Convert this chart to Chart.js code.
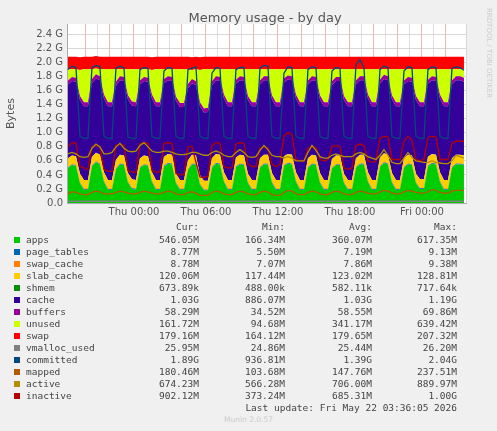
<!DOCTYPE html>
<html lang="en">
<head>
<meta charset="UTF-8" />
<title>Memory usage - by day</title>
<script src="https://cdn.jsdelivr.net/npm/chart.js"></script>
<style>
  body { margin: 0; background: #f0f0f0; width: 497px; height: 431px; position: relative; overflow: hidden;
         font-family: "DejaVu Sans Mono", monospace; font-size: 9.5px; color: #444; }
  #wrap { position: absolute; left: 0; top: 0; width: 497px; height: 222px; }
  .row { position: absolute; left: 0; height: 12px; line-height: 12px; white-space: pre; }
  .sw { position: absolute; left: 14px; top: 3px; width: 6px; height: 6px; }
  .lab { position: absolute; left: 26px; }
  .num { position: absolute; text-align: right; width: 90px; }
  #munin { position: absolute; top: 415px; left: 0; width: 497px; text-align: center; color: #ccc; font-family: "DejaVu Sans"; font-size: 7.5px; }
</style>
</head>
<body>
<div id="wrap"><canvas id="c" width="497" height="222"></canvas></div>
<div id="legend"></div>
<div id="munin">Munin 2.0.57</div>
<script>
// samples every 20 minutes, hours relative to Thu 00:00
const startHour = -5.5;
const stepHour = 1 / 3;

// values in GB
const apps = [
  0.50,0.54,0.53,0.28,0.19,0.19, 0.52,0.58,0.55,0.30,0.19,0.19,
  0.48,0.55,0.54,0.29,0.20,0.19, 0.50,0.54,0.53,0.30,0.19,0.19,
  0.52,0.56,0.55,0.28,0.19,0.19, 0.47,0.55,0.54,0.26,0.18,0.18,
  0.50,0.56,0.55,0.30,0.19,0.19, 0.51,0.55,0.54,0.28,0.19,0.19,
  0.50,0.55,0.55,0.29,0.19,0.19, 0.53,0.56,0.55,0.30,0.19,0.19,
  0.50,0.55,0.54,0.29,0.19,0.19, 0.49,0.54,0.54,0.28,0.19,0.19,
  0.50,0.55,0.55,0.30,0.19,0.19, 0.51,0.57,0.55,0.29,0.19,0.19,
  0.50,0.55,0.54,0.28,0.20,0.20, 0.52,0.56,0.55,0.30,0.19,0.19,
  0.50,0.55,0.55,0.54
];
const pageTables = Array(100).fill(0.009);
const swapCache = Array(100).fill(0.008);
const slabCache = Array(100).fill(0.12);
const shmem = Array(100).fill(0.0006);
const cache = [
  1.05,1.06,1.06,1.05,1.05,1.05, 1.05,1.06,1.06,1.05,1.05,1.05,
  1.05,1.06,1.06,1.05,1.05,1.05, 1.05,1.06,1.06,1.05,1.05,1.05,
  1.05,1.05,1.05,1.04,1.04,1.04, 1.03,1.02,1.00,0.98,0.97,0.98,
  1.04,1.05,1.05,1.05,1.05,1.05, 1.05,1.06,1.06,1.05,1.05,1.05,
  1.05,1.06,1.06,1.05,1.05,1.05, 1.05,1.06,1.06,1.05,1.05,1.05,
  1.05,1.06,1.06,1.05,1.05,1.05, 1.05,1.06,1.06,1.05,1.05,1.05,
  1.05,1.06,1.06,1.05,1.05,1.05, 1.05,1.06,1.06,1.05,1.05,1.05,
  1.05,1.05,1.05,1.05,1.04,1.04, 1.04,1.05,1.05,1.05,1.05,1.05,
  1.05,1.06,1.06,1.05
];
const buffers = Array(100).fill(0.058);
const unused = [
  0.16,0.11,0.12,0.37,0.47,0.47, 0.14,0.08,0.10,0.36,0.47,0.47,
  0.18,0.10,0.11,0.37,0.46,0.47, 0.16,0.11,0.12,0.35,0.47,0.47,
  0.14,0.10,0.11,0.39,0.48,0.48, 0.21,0.13,0.17,0.46,0.56,0.55,
  0.17,0.10,0.11,0.36,0.47,0.47, 0.15,0.10,0.11,0.38,0.47,0.47,
  0.16,0.10,0.10,0.37,0.47,0.47, 0.13,0.09,0.10,0.36,0.47,0.47,
  0.16,0.10,0.11,0.37,0.47,0.47, 0.17,0.11,0.11,0.38,0.47,0.47,
  0.16,0.10,0.10,0.36,0.47,0.47, 0.15,0.08,0.10,0.37,0.47,0.47,
  0.16,0.11,0.12,0.38,0.47,0.47, 0.15,0.10,0.11,0.36,0.47,0.47,
  0.16,0.10,0.10,0.12
];
const swap = Array(100).fill(0.179);
const vmallocUsed = Array(100).fill(0.025);
const committed = [
  1.90,1.95,1.93,0.95,0.92,0.92, 1.93,1.96,1.94,0.95,0.92,0.92,
  1.92,1.95,1.93,0.94,0.92,0.92, 1.90,1.93,1.92,0.95,0.92,0.92,
  1.88,1.93,1.92,0.95,0.92,0.92, 1.90,1.92,1.94,0.95,0.92,0.92,
  1.85,1.93,1.92,0.95,0.92,0.92, 1.90,1.93,1.93,0.95,0.92,0.92,
  1.92,1.96,1.95,0.95,0.92,0.92, 1.85,1.94,1.93,0.95,0.92,0.92,
  1.90,1.94,1.93,0.95,0.92,0.92, 1.88,1.93,1.92,0.95,0.92,0.92,
  1.97,2.04,1.93,0.95,0.92,0.92, 1.90,1.95,1.93,0.95,0.92,0.92,
  1.88,1.94,1.93,0.95,0.92,0.92, 1.90,1.94,1.93,0.95,0.92,0.92,
  1.92,1.94,1.93,1.89
];
const mapped = [
  0.13,0.16,0.15,0.13,0.12,0.12, 0.15,0.17,0.16,0.13,0.13,0.13,
  0.15,0.17,0.16,0.14,0.13,0.13, 0.15,0.17,0.16,0.14,0.13,0.13,
  0.15,0.17,0.16,0.13,0.12,0.12, 0.15,0.16,0.14,0.11,0.11,0.11,
  0.15,0.17,0.16,0.13,0.12,0.12, 0.15,0.17,0.16,0.13,0.12,0.12,
  0.15,0.17,0.16,0.12,0.11,0.11, 0.15,0.18,0.17,0.13,0.12,0.12,
  0.15,0.17,0.16,0.13,0.12,0.12, 0.15,0.17,0.16,0.13,0.12,0.12,
  0.15,0.17,0.16,0.14,0.13,0.13, 0.16,0.18,0.17,0.14,0.13,0.13,
  0.16,0.18,0.17,0.15,0.14,0.14, 0.16,0.19,0.18,0.15,0.14,0.14,
  0.17,0.18,0.18,0.18
];
const active = [
  0.70,0.72,0.70,0.66,0.65,0.66, 0.78,0.84,0.80,0.70,0.70,0.72,
  0.80,0.85,0.78,0.74,0.73,0.74, 0.82,0.86,0.80,0.74,0.72,0.72,
  0.74,0.74,0.72,0.70,0.69,0.69, 0.70,0.72,0.72,0.70,0.68,0.68,
  0.72,0.74,0.72,0.68,0.66,0.66, 0.72,0.76,0.72,0.66,0.65,0.66,
  0.75,0.82,0.76,0.68,0.66,0.66, 0.64,0.66,0.64,0.60,0.60,0.60,
  0.72,0.82,0.75,0.66,0.64,0.64, 0.68,0.70,0.68,0.66,0.66,0.66,
  0.70,0.72,0.70,0.66,0.64,0.62, 0.68,0.76,0.68,0.58,0.56,0.56,
  0.64,0.72,0.65,0.60,0.59,0.58, 0.58,0.60,0.58,0.57,0.56,0.56,
  0.60,0.68,0.66,0.64
];
const inactive = [
  0.80,0.86,0.85,0.52,0.50,0.48, 0.80,0.82,0.80,0.48,0.45,0.45,
  0.82,0.84,0.82,0.46,0.44,0.44, 0.84,0.86,0.85,0.46,0.44,0.44,
  0.85,0.86,0.85,0.42,0.40,0.40, 0.80,0.81,0.58,0.37,0.36,0.38,
  0.82,0.86,0.85,0.52,0.50,0.50, 0.84,0.86,0.85,0.55,0.52,0.52,
  0.78,0.80,0.78,0.55,0.52,0.55, 0.96,1.00,0.98,0.62,0.60,0.60,
  0.78,0.80,0.79,0.62,0.60,0.62, 0.80,0.82,0.80,0.50,0.48,0.50,
  0.82,0.84,0.82,0.60,0.58,0.60, 0.92,0.95,0.94,0.62,0.62,0.62,
  0.88,0.95,0.90,0.62,0.60,0.62, 0.93,0.95,0.94,0.62,0.62,0.62,
  0.85,0.88,0.88,0.88
];

const yTicks = [0, 0.2, 0.4, 0.6, 0.8, 1.0, 1.2, 1.4, 1.6, 1.8, 2.0, 2.2, 2.4];
const tickLabels = { 0: 'Thu 00:00', 6: 'Thu 06:00', 12: 'Thu 12:00', 18: 'Thu 18:00', 24: 'Fri 00:00' };

const legendRows = [
  ['apps', '#00cc00', '546.05M', '166.34M', '360.07M', '617.35M'],
  ['page_tables', '#0066b3', '8.77M', '5.50M', '7.19M', '9.13M'],
  ['swap_cache', '#ff8000', '8.78M', '7.07M', '7.86M', '9.38M'],
  ['slab_cache', '#ffcc00', '120.06M', '117.44M', '123.02M', '128.81M'],
  ['shmem', '#008f00', '673.89k', '488.00k', '582.11k', '717.64k'],
  ['cache', '#330099', '1.03G', '886.07M', '1.03G', '1.19G'],
  ['buffers', '#990099', '58.29M', '34.52M', '58.55M', '69.86M'],
  ['unused', '#ccff00', '161.72M', '94.68M', '341.17M', '639.42M'],
  ['swap', '#ff0000', '179.16M', '164.12M', '179.65M', '207.32M'],
  ['vmalloc_used', '#808080', '25.95M', '24.86M', '25.44M', '26.20M'],
  ['committed', '#00487d', '1.89G', '936.81M', '1.39G', '2.04G'],
  ['mapped', '#b35a00', '180.46M', '103.68M', '147.76M', '237.51M'],
  ['active', '#b38f00', '674.23M', '566.28M', '706.00M', '889.97M'],
  ['inactive', '#b30000', '902.12M', '373.24M', '685.31M', '1.00G']
];

const pts = arr => arr.map((v, i) => ({ x: startHour + i * stepHour, y: v }));
const area = (label, data, color, first) => ({
  label, data: pts(data), backgroundColor: color, borderColor: color, borderWidth: 0,
  fill: first ? 'origin' : '-1', stack: 'mem', pointRadius: 0, tension: 0, order: 1
});
const line = (label, data, color) => ({
  label, data: pts(data), borderColor: color, backgroundColor: color, borderWidth: 1.3,
  fill: false, stack: label, pointRadius: 0, tension: 0, order: 0
});

const decor = {
  id: 'decor',
  beforeDraw(chart) {
    const ctx = chart.ctx, a = chart.chartArea;
    ctx.save();
    ctx.fillStyle = '#fff';
    ctx.fillRect(a.left, a.top, a.right - a.left, a.bottom - a.top);
    ctx.restore();
  },
  afterDraw(chart) {
    const ctx = chart.ctx, a = chart.chartArea;
    ctx.save();
    ctx.fillStyle = '#555';
    ctx.font = '13px "DejaVu Sans"';
    ctx.textAlign = 'center';
    ctx.fillText('Memory usage - by day', 265, 22);
    ctx.fillStyle = '#ccc';
    ctx.font = '7px "DejaVu Sans"';
    ctx.translate(487, 8);
    ctx.rotate(Math.PI / 2);
    ctx.textAlign = 'left';
    ctx.fillText('RRDTOOL / TOBI OETIKER', 0, 0);
    ctx.restore();
    ctx.save();
    ctx.fillStyle = '#555';
    ctx.font = '11px "DejaVu Sans"';
    ctx.translate(14, (a.top + a.bottom) / 2);
    ctx.rotate(-Math.PI / 2);
    ctx.textAlign = 'center';
    ctx.fillText('Bytes', 0, 0);
    ctx.restore();
  }
};

new Chart(document.getElementById('c'), {
  type: 'line',
  data: {
    datasets: [
      area('apps', apps, '#00cc00', true),
      area('page_tables', pageTables, '#0066b3'),
      area('swap_cache', swapCache, '#ff8000'),
      area('slab_cache', slabCache, '#ffcc00'),
      area('shmem', shmem, '#008f00'),
      area('cache', cache, '#330099'),
      area('buffers', buffers, '#990099'),
      area('unused', unused, '#ccff00'),
      area('swap', swap, '#ff0000'),
      line('vmalloc_used', vmallocUsed, '#808080'),
      line('committed', committed, '#00487d'),
      line('mapped', mapped, '#b35a00'),
      line('active', active, '#b38f00'),
      line('inactive', inactive, '#b30000')
    ]
  },
  options: {
    responsive: false,
    animation: false,
    layout: { padding: { top: 24, right: 31, left: 0, bottom: 0 } },
    plugins: { legend: { display: false }, tooltip: { enabled: false } },
    scales: {
      x: {
        type: 'linear', min: -5.58, max: 27.67,
        afterFit: s => { s.height = 19; },
        ticks: {
          stepSize: 1, autoSkip: false, maxRotation: 0, color: '#555',
          font: { family: 'DejaVu Sans', size: 10 },
          callback: v => tickLabels[v] || ''
        },
        grid: {
          color: ctx => (ctx.tick && ctx.tick.value % 2 === 0) ? 'rgba(230,120,120,0.55)' : 'rgba(190,190,190,0.5)',
          drawTicks: false
        },
        border: { color: '#aaa' }
      },
      y: {
        stacked: true, min: 0, max: 2.55,
        afterFit: s => { s.width = 67; },
        afterBuildTicks: s => { s.ticks = yTicks.map(v => ({ value: v })); },
        ticks: {
          autoSkip: false, color: '#555', padding: 4,
          font: { family: 'DejaVu Sans', size: 10 },
          callback: v => v < 0.01 ? '0.0' : v.toFixed(1) + ' G'
        },
        grid: { color: 'rgba(190,190,190,0.6)', drawTicks: false },
        border: { color: '#aaa' }
      }
    }
  },
  plugins: [decor]
});

// legend table
const leg = document.getElementById('legend');
const cols = [199, 285, 372, 457];
let html = '<div class="row" style="top:221px">';
['Cur:', 'Min:', 'Avg:', 'Max:'].forEach((h, i) => {
  html += `<span class="num" style="left:${cols[i] - 90}px">${h}</span>`;
});
html += '</div>';
legendRows.forEach((r, k) => {
  html += `<div class="row" style="top:${234 + k * 12}px"><span class="sw" style="background:${r[1]}"></span><span class="lab">${r[0]}</span>`;
  for (let i = 0; i < 4; i++) html += `<span class="num" style="left:${cols[i] - 90}px">${r[i + 2]}</span>`;
  html += '</div>';
});
html += '<div class="row" style="top:402px;left:200px;width:257px;text-align:right">Last update: Fri May 22 03:36:05 2026</div>';
leg.innerHTML = html;
</script>
</body>
</html>
